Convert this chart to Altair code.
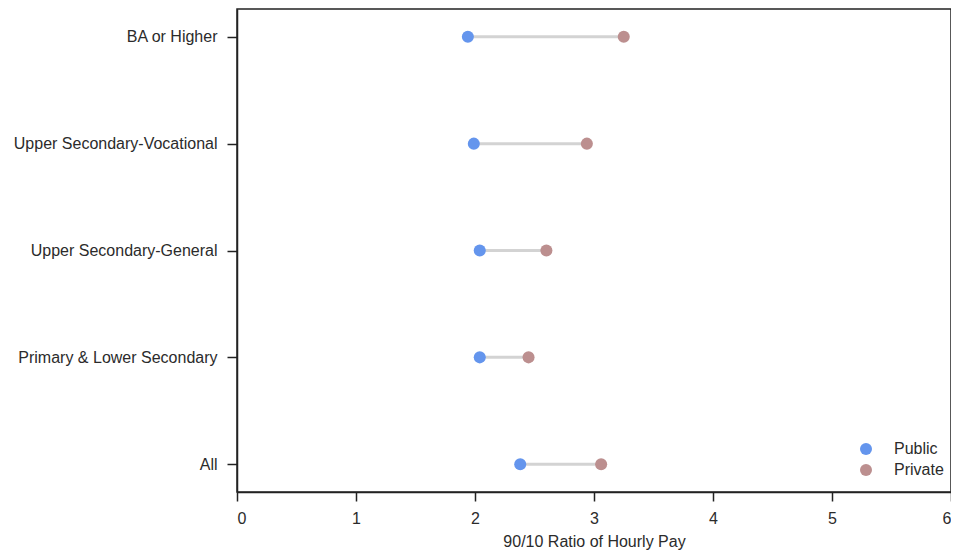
import altair as alt
import pandas as pd

categories = ["BA or Higher", "Upper Secondary-Vocational", "Upper Secondary-General",
              "Primary & Lower Secondary", "All"]
public = [1.94, 1.99, 2.04, 2.04, 2.38]
private = [3.25, 2.94, 2.60, 2.45, 3.06]
series = ["Public", "Private"]
colors = ["#6495ED", "#BC8F8F"]
x_ticks = [0, 1, 2, 3, 4, 5, 6]

wide = pd.DataFrame({"cat": categories, "Public": public, "Private": private})
long = wide.melt(id_vars="cat", value_vars=series, var_name="sector", value_name="ratio")

FONT = "Liberation Sans"
TXT = "#2b2b2b"

y_enc = alt.Y("cat:N", sort=categories, title=None,
              scale=alt.Scale(type="point", padding=0.26),
              axis=alt.Axis(labelFontSize=16, labelColor=TXT, labelFont=FONT,
                            labelLimit=400,
                            tickSize=10, tickWidth=1.5, tickColor="#222222",
                            domainColor="#222222", domainWidth=1.5, labelPadding=10,
                            grid=False))
x_scale = alt.Scale(domain=[0, 6], nice=False)
x_axis = alt.Axis(values=x_ticks, title="90/10 Ratio of Hourly Pay", format="d",
                  labelFontSize=16, labelColor=TXT, labelFont=FONT,
                  titleFontSize=16, titleFont=FONT, titleColor=TXT,
                  titleFontWeight="normal", titlePadding=7,
                  tickSize=9, tickWidth=1.5, tickColor="#222222",
                  domainColor="#222222", domainWidth=1.5, labelPadding=9, grid=False)

rules = alt.Chart(wide).mark_rule(color="#D3D3D3", strokeWidth=3).encode(
    y=y_enc,
    x=alt.X("Public:Q", scale=x_scale, axis=x_axis),
    x2="Private:Q",
)

points = alt.Chart(long).mark_circle(size=145, opacity=1).encode(
    y=alt.Y("cat:N", sort=categories),
    x=alt.X("ratio:Q", scale=x_scale),
    color=alt.Color("sector:N", sort=series,
                    scale=alt.Scale(domain=series, range=colors),
                    legend=alt.Legend(title=None, orient="none", legendX=621, legendY=432,
                                      labelFontSize=16, labelFont=FONT, labelColor=TXT,
                                      symbolSize=145, symbolOpacity=1, rowPadding=5,
                                      labelOffset=20)),
)

chart = alt.layer(rules, points).properties(
    width=714, height=483,
    autosize=alt.AutoSizeParams(type="none"),
    padding={"left": 229, "top": 1, "right": 0, "bottom": 58},
).configure(font=FONT).configure_view(stroke="#222222", strokeWidth=1.5)

chart.save("out.html", embed_options={"renderer": "svg", "actions": False})
